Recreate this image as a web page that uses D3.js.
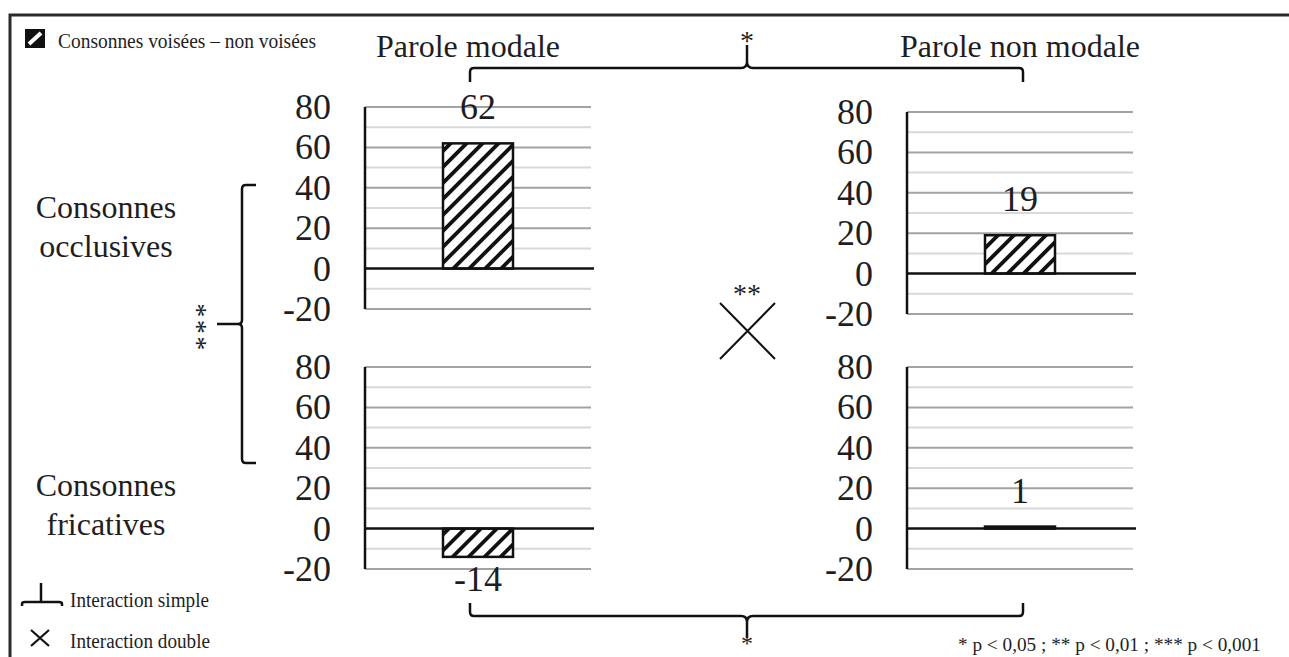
<!DOCTYPE html>
<html>
<head>
<meta charset="utf-8">
<script src="https://cdn.jsdelivr.net/npm/d3@7"></script>
<style>
  body { margin: 0; background: #fff; }
  svg text { font-family: "Liberation Serif", "Times New Roman", serif; fill: #1e1e1e; }
</style>
</head>
<body>
<div id="chart"></div>
<script>
const width = 1289,
      height = 657;

// data (voiced - voiceless difference)
const rowLabels = [["Consonnes", "occlusives"], ["Consonnes", "fricatives"]];
const colLabels = ["Parole modale", "Parole non modale"];
const modale = [62, -14];
const nonModale = [19, 1];
const yTicks = [-20, 0, 20, 40, 60, 80];
const minorTicks = [-10, 10, 30, 50, 70];
const legendText = "Consonnes voisées – non voisées";
const footnote = "* p < 0,05 ; ** p < 0,01 ; *** p < 0,001";

// panel frames: [row][col]
const panels = [
  [{x0: 365, x1: 591, top: 107}, {x0: 907, x1: 1133, top: 112}],
  [{x0: 365, x1: 591, top: 367}, {x0: 907, x1: 1133, top: 367}]
];
const panelH = 202;

const svg = d3.select("#chart")
  .append("svg")
    .attr("width", width)
    .attr("height", height);

const defs = svg.append("defs");
const hatch = defs.append("pattern")
    .attr("id", "hatch")
    .attr("patternUnits", "userSpaceOnUse")
    .attr("width", 11.3)
    .attr("height", 11.3)
    .attr("patternTransform", "rotate(45)");
hatch.append("rect").attr("width", 11.3).attr("height", 11.3).attr("fill", "#fff");
hatch.append("rect").attr("width", 3.8).attr("height", 11.3).attr("fill", "#111");

// frame
svg.append("path")
  .attr("d", `M10,${height} V15 H${width}`)
  .attr("fill", "none")
  .attr("stroke", "#2b2b2b")
  .attr("stroke-width", 3);

function drawPanel(p, value) {
  const y = d3.scaleLinear().domain([-20, 80]).range([p.top + panelH, p.top]);
  const x = d3.scaleBand().domain(["d"]).range([p.x0, p.x1]).padding(0.527);
  const g = svg.append("g");

  g.selectAll("line.minor")
    .data(minorTicks)
    .join("line")
      .attr("class", "minor")
      .attr("x1", p.x0).attr("x2", p.x1)
      .attr("y1", d => y(d)).attr("y2", d => y(d))
      .attr("stroke", "#d9d9d9")
      .attr("stroke-width", 2);

  g.selectAll("line.major")
    .data(yTicks.filter(d => d !== 0))
    .join("line")
      .attr("class", "major")
      .attr("x1", p.x0).attr("x2", p.x1)
      .attr("y1", d => y(d)).attr("y2", d => y(d))
      .attr("stroke", "#a3a3a3")
      .attr("stroke-width", 2);

  const axis = g.append("g")
    .attr("transform", `translate(${p.x0},0)`)
    .call(d3.axisLeft(y).tickValues(yTicks).tickSize(0).tickPadding(34).tickFormat(d => String(d)));
  axis.select(".domain").remove();
  axis.selectAll("text")
    .attr("fill", "#1e1e1e")
    .style("font-family", '"Liberation Serif", serif')
    .style("font-size", "36px");

  g.append("rect")
    .attr("x", x("d"))
    .attr("width", x.bandwidth())
    .attr("y", y(Math.max(0, value)))
    .attr("height", Math.abs(y(value) - y(0)))
    .attr("fill", "url(#hatch)")
    .attr("stroke", "#111")
    .attr("stroke-width", 2.5);

  // zero line and vertical axis
  g.append("line")
    .attr("x1", p.x0).attr("x2", p.x1 + 3)
    .attr("y1", y(0)).attr("y2", y(0))
    .attr("stroke", "#111").attr("stroke-width", 2.5);
  g.append("line")
    .attr("x1", p.x0).attr("x2", p.x0)
    .attr("y1", y(80)).attr("y2", y(-20))
    .attr("stroke", "#111").attr("stroke-width", 2.5);

  g.append("text")
    .attr("x", x("d") + x.bandwidth() / 2)
    .attr("y", value >= 0 ? y(value) - 24 : y(value) + 34)
    .attr("text-anchor", "middle")
    .style("font-size", "36px")
    .text(value);
}

panels.forEach((row, i) => {
  drawPanel(row[0], modale[i]);
  drawPanel(row[1], nonModale[i]);
});

// column titles
svg.selectAll("text.col")
  .data(colLabels)
  .join("text")
    .attr("class", "col")
    .attr("x", (d, i) => i === 0 ? 468 : 1020)
    .attr("y", 57)
    .attr("text-anchor", "middle")
    .style("font-size", "32px")
    .text(d => d);

// row titles
rowLabels.forEach((lines, i) => {
  const base = i === 0 ? 218 : 496;
  svg.append("text")
    .attr("text-anchor", "middle")
    .style("font-size", "32px")
    .selectAll("tspan")
    .data(lines)
    .join("tspan")
      .attr("x", 106)
      .attr("y", (d, j) => base + j * 39)
      .text(d => d);
});

// brackets
const bracket = svg.append("g")
  .attr("fill", "none")
  .attr("stroke", "#111")
  .attr("stroke-width", 2.5);

bracket.append("path")
  .attr("d", "M470,82 V72 Q470,68 474,68 H741 Q747,68 747,62 V45 M747,62 Q747,68 753,68 H1019 Q1023,68 1023,72 V82");
bracket.append("path")
  .attr("d", "M470,603 V612 Q470,616 474,616 H741 Q747,616 747,622 V638 M747,622 Q747,616 753,616 H1019 Q1023,616 1023,612 V603");
bracket.append("path")
  .attr("d", "M256,185 H246 Q242,185 242,189 V320 Q242,324 238,324 H217 M238,324 Q242,324 242,328 V459 Q242,463 246,463 H256");

// interaction cross
bracket.append("path")
  .attr("stroke-width", 2)
  .attr("d", "M720,303 L775,359 M775,303 L720,359");

const stars = [
  {x: 747, y: 50, t: "*", s: 28},
  {x: 747, y: 651, t: "*", s: 24},
  {x: 747, y: 303, t: "**", s: 28}
];
svg.selectAll("text.star")
  .data(stars)
  .join("text")
    .attr("class", "star")
    .attr("x", d => d.x)
    .attr("y", d => d.y)
    .attr("text-anchor", "middle")
    .style("font-size", d => d.s + "px")
    .text(d => d.t);

// vertical "***" next to the row bracket
svg.append("text")
  .attr("transform", "translate(189,328) rotate(90)")
  .attr("text-anchor", "middle")
  .attr("dy", "0.05em")
  .style("font-size", "28px")
  .style("letter-spacing", "2.5px")
  .text("***");

// legend top-left
svg.append("rect")
  .attr("x", 25).attr("y", 29)
  .attr("width", 20).attr("height", 19)
  .attr("fill", "#111");
svg.append("path")
  .attr("d", "M29,44 L41,33")
  .attr("stroke", "#fff")
  .attr("stroke-width", 4);
svg.append("text")
  .attr("x", 58).attr("y", 48)
  .attr("textLength", 258)
  .attr("lengthAdjust", "spacingAndGlyphs")
  .style("font-size", "21px")
  .text(legendText);

// legend bottom-left
const leg = svg.append("g")
  .attr("fill", "none")
  .attr("stroke", "#111")
  .attr("stroke-width", 2.5);
leg.append("path").attr("d", "M22,606 V604 Q22,602 25,602 H59 Q62,602 62,604 V606 M41,602 V583");
leg.append("path").attr("stroke-width", 2.2).attr("d", "M31,630 L49,646 M49,630 L31,646");

svg.append("text")
  .attr("x", 70).attr("y", 607)
  .attr("textLength", 139)
  .attr("lengthAdjust", "spacingAndGlyphs")
  .style("font-size", "20px")
  .text("Interaction simple");
svg.append("text")
  .attr("x", 70).attr("y", 648)
  .attr("textLength", 140)
  .attr("lengthAdjust", "spacingAndGlyphs")
  .style("font-size", "20px")
  .text("Interaction double");

svg.append("text")
  .attr("x", 958).attr("y", 651)
  .attr("textLength", 303)
  .attr("lengthAdjust", "spacingAndGlyphs")
  .style("font-size", "19px")
  .text(footnote);
</script>
</body>
</html>
